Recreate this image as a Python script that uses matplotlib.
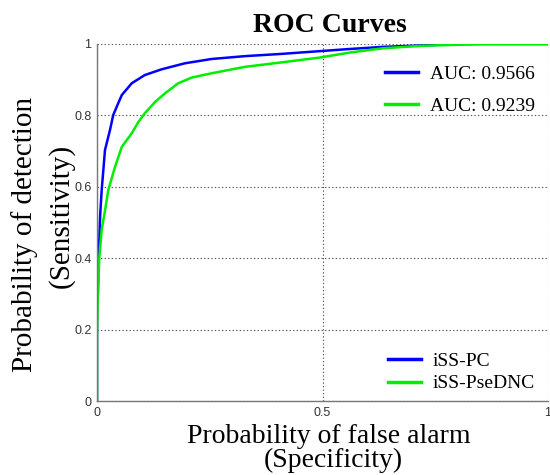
import matplotlib
matplotlib.use("Agg")
import matplotlib.pyplot as plt
from matplotlib.lines import Line2D

fpr_pc = [0, 0, 0.002, 0.003, 0.005, 0.007, 0.0104, 0.0177, 0.0288, 0.036, 0.047, 0.055, 0.077,
          0.106, 0.143, 0.195, 0.254, 0.328, 0.406, 0.494, 0.56, 0.634, 0.72, 0.81, 1.0]
tpr_pc = [0, 0.29, 0.30, 0.40, 0.45, 0.52, 0.591, 0.703, 0.759, 0.801, 0.834, 0.857, 0.89,
          0.913, 0.929, 0.946, 0.958, 0.966, 0.972, 0.98, 0.986, 0.992, 0.996, 1.0, 1.0]

fpr_dnc = [0, 0, 0.002, 0.005, 0.0104, 0.018, 0.025, 0.040, 0.055, 0.077, 0.092, 0.106, 0.129,
           0.151, 0.18, 0.21, 0.254, 0.328, 0.406, 0.494, 0.56, 0.634, 0.72, 0.86, 1.0]
tpr_dnc = [0, 0.18, 0.30, 0.40, 0.48, 0.535, 0.591, 0.656, 0.712, 0.75, 0.782, 0.806, 0.838,
           0.862, 0.89, 0.906, 0.918, 0.936, 0.948, 0.962, 0.976, 0.988, 0.995, 1.0, 1.0]

names = ["iSS-PC", "iSS-PseDNC"]
aucs = ["AUC: 0.9566", "AUC: 0.9239"]
colors = ["#0000ff", "#00ee00"]
xticks = [0, 0.5, 1]
xticklabels = ["0", "0.5", "1"]
yticks = [0, 0.2, 0.4, 0.6, 0.8, 1.0]
yticklabels = ["0", "0.2", "0.4", "0.6", "0.8", "1"]

serif = "Liberation Serif"
W, H = 550, 475
fig = plt.figure(figsize=(5.5, 4.75), dpi=100)
ax = fig.add_axes([97/W, 74/H, 451/W, 357/H])

ax.plot(fpr_pc, tpr_pc, color=colors[0], lw=1.8)
ax.plot(fpr_dnc, tpr_dnc, color=colors[1], lw=1.8)

ax.set_xlim(0, 1)
ax.set_ylim(0, 1)
ax.set_xticks(xticks)
ax.set_xticklabels(xticklabels, family="Liberation Sans", fontsize=9, color="#333333")
ax.set_yticks(yticks)
ax.set_yticklabels(yticklabels, family="Liberation Sans", fontsize=9, color="#333333")
ax.tick_params(length=0, pad=4)
ax.grid(True, color="#555555", linestyle=(0, (1.2, 2)), linewidth=0.8)
for s in ["top", "right"]:
    ax.spines[s].set_visible(False)
for s in ["left", "bottom"]:
    ax.spines[s].set_color("#777777")
    ax.spines[s].set_linewidth(1.0)

def fx(px):
    return px / W

def fy(py):
    return (H - py) / H

fig.text(fx(330), fy(32), "ROC Curves", family=serif, fontsize=20, fontweight="bold",
         ha="center", va="baseline")
fig.text(fx(329), fy(443), "Probability of false alarm", family=serif, fontsize=20,
         ha="center", va="baseline")
fig.text(fx(333), fy(467), "(Specificity)", family=serif, fontsize=20,
         ha="center", va="baseline")
fig.text(fx(25), fy(234), "Probability of detection", family=serif, fontsize=21,
         ha="center", va="center", rotation=90)
fig.text(fx(61), fy(216), "(Sensitivity)", family=serif, fontsize=21,
         ha="center", va="center", rotation=90)

h1 = [Line2D([], [], color=c, lw=2.5) for c in colors]
leg1 = ax.legend(h1, aucs, loc="upper right", bbox_to_anchor=(1.009, 0.99), frameon=False,
                 prop={"family": serif, "size": 14}, handlelength=1.7, handletextpad=0.6,
                 labelspacing=0.76)
ax.add_artist(leg1)
h2 = [Line2D([], [], color=c, lw=2.5) for c in colors]
ax.legend(h2, names, loc="lower right", bbox_to_anchor=(1.009, -0.025), frameon=False,
          prop={"family": serif, "size": 14}, handlelength=1.7, handletextpad=0.6,
          labelspacing=0.25)

fig.savefig("out.png", dpi=100)
